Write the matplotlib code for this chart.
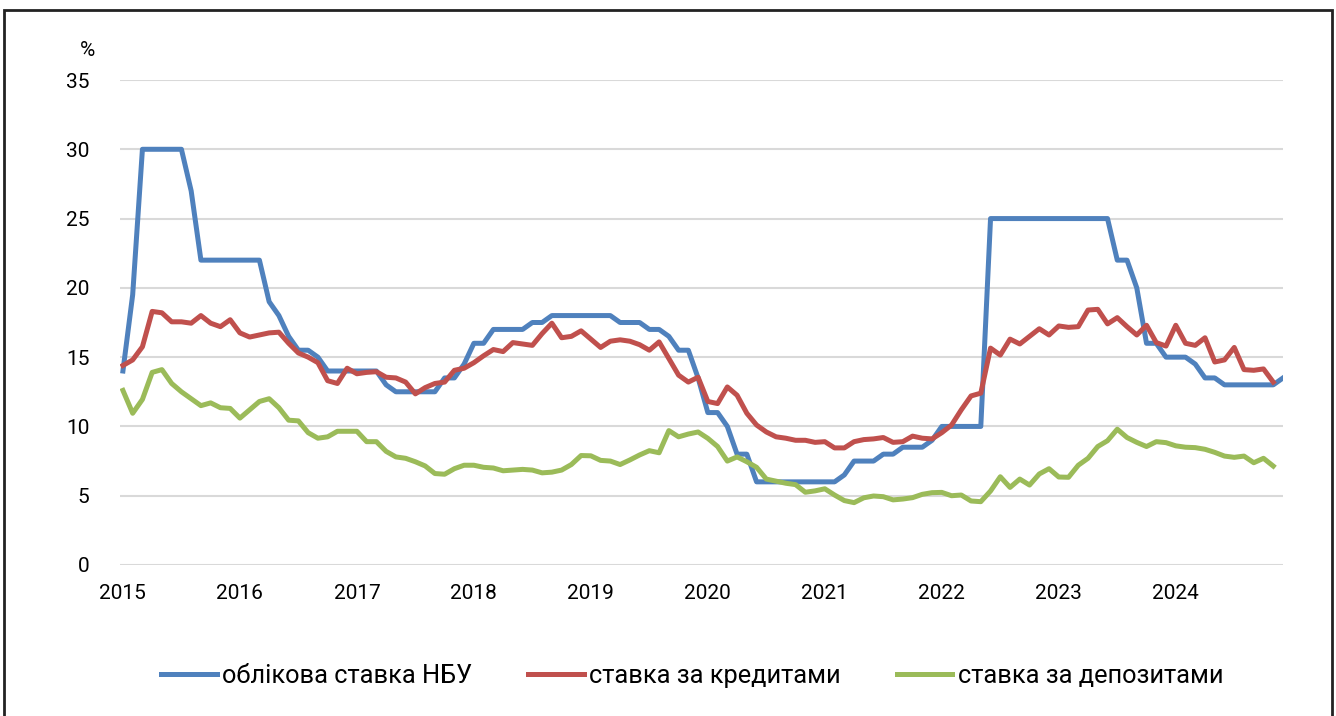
#Plots NBU discount rate against average loan and deposit rates, 2015-2024
import matplotlib.pyplot as plt
import matplotlib.patches as patches
import numpy as np

plt.rcParams['font.family'] = ['Roboto', 'DejaVu Sans']

#Monthly values, Jan 2015 onwards (%)
nbu_rate = [14, 19.5, 30, 30, 30, 30, 30, 27, 22, 22, 22, 22,
            22, 22, 22, 19, 18, 16.5, 15.5, 15.5, 15, 14, 14, 14,
            14, 14, 14, 13, 12.5, 12.5, 12.5, 12.5, 12.5, 13.5, 13.5, 14.5,
            16, 16, 17, 17, 17, 17, 17.5, 17.5, 18, 18, 18, 18,
            18, 18, 18, 17.5, 17.5, 17.5, 17, 17, 16.5, 15.5, 15.5, 13.5,
            11, 11, 10, 8, 8, 6, 6, 6, 6, 6, 6, 6,
            6, 6, 6.5, 7.5, 7.5, 7.5, 8, 8, 8.5, 8.5, 8.5, 9,
            10, 10, 10, 10, 10, 25, 25, 25, 25, 25, 25, 25,
            25, 25, 25, 25, 25, 25, 22, 22, 20, 16, 16, 15,
            15, 15, 14.5, 13.5, 13.5, 13, 13, 13, 13, 13, 13, 13.5]

loan_rate = [14.4, 14.8, 15.75, 18.3, 18.2, 17.55, 17.55, 17.45, 18.0, 17.45, 17.2, 17.7,
             16.75, 16.45, 16.6, 16.75, 16.8, 16.0, 15.3, 15.0, 14.6, 13.3, 13.1, 14.2,
             13.8, 13.9, 13.95, 13.55, 13.5, 13.2, 12.35, 12.8, 13.1, 13.2, 14.05, 14.2,
             14.6, 15.1, 15.55, 15.4, 16.05, 15.95, 15.85, 16.7, 17.45, 16.4, 16.5, 16.9,
             16.3, 15.7, 16.15, 16.25, 16.15, 15.9, 15.5, 16.1, 14.9, 13.7, 13.2, 13.55,
             11.8, 11.65, 12.85, 12.25, 10.95, 10.1, 9.6, 9.25, 9.15, 9.0, 9.0, 8.85,
             8.9, 8.45, 8.45, 8.9, 9.05, 9.1, 9.2, 8.85, 8.9, 9.3, 9.15, 9.1,
             9.55, 10.1, 11.2, 12.2, 12.4, 15.65, 15.15, 16.3, 15.95, 16.5, 17.05, 16.6,
             17.25, 17.15, 17.2, 18.4, 18.45, 17.4, 17.85, 17.2, 16.6, 17.3, 16.05, 15.8,
             17.3, 16.0, 15.85, 16.4, 14.65, 14.8, 15.7, 14.1, 14.05, 14.15, 13.2]

deposit_rate = [12.6, 10.95, 11.95, 13.9, 14.1, 13.1, 12.5, 12.0, 11.5, 11.7, 11.35, 11.3,
                10.6, 11.2, 11.8, 12.0, 11.35, 10.45, 10.4, 9.55, 9.15, 9.25, 9.65, 9.65,
                9.65, 8.9, 8.9, 8.2, 7.8, 7.7, 7.45, 7.15, 6.6, 6.55, 6.95, 7.2,
                7.2, 7.05, 7.0, 6.8, 6.85, 6.9, 6.85, 6.65, 6.7, 6.85, 7.25, 7.9,
                7.88, 7.55, 7.5, 7.25, 7.58, 7.94, 8.25, 8.1, 9.7, 9.25, 9.45, 9.6,
                9.14, 8.55, 7.5, 7.8, 7.45, 7.05, 6.2, 6.05, 5.9, 5.8, 5.25, 5.35,
                5.5, 5.05, 4.65, 4.5, 4.85, 4.98, 4.93, 4.7, 4.76, 4.86, 5.1, 5.22,
                5.24, 5.0, 5.05, 4.62, 4.57, 5.34, 6.37, 5.6, 6.2, 5.77, 6.57, 6.95,
                6.35, 6.33, 7.2, 7.7, 8.55, 8.97, 9.8, 9.2, 8.85, 8.55, 8.9, 8.83,
                8.6, 8.5, 8.47, 8.35, 8.13, 7.86, 7.77, 7.86, 7.38, 7.7, 7.14]

years = ['2015', '2016', '2017', '2018', '2019', '2020', '2021', '2022', '2023', '2024']
y_ticks = [0, 5, 10, 15, 20, 25, 30, 35]
labels = ['облікова ставка НБУ', 'ставка за кредитами', 'ставка за депозитами']

fig = plt.figure(figsize=(13.36, 7.16), dpi=100)
ax = fig.add_axes([120/1336, 151/716, 1163/1336, 485/716])

ax.plot(np.arange(len(nbu_rate)), nbu_rate, color='#4F81BD', lw=3.6, label=labels[0])
ax.plot(np.arange(len(loan_rate)), loan_rate, color='#C0504D', lw=3.6, label=labels[1])
ax.plot(np.arange(len(deposit_rate)), deposit_rate, color='#9BBB59', lw=3.6, label=labels[2])

ax.set_xlim(-0.3, 119)
ax.set_ylim(0, 35)
ax.set_yticks(y_ticks)
ax.set_xticks(np.arange(0, 12*len(years), 12))
ax.set_xticklabels(years)
ax.tick_params(length=0, labelsize=15, colors='black')
ax.tick_params(axis='y', pad=22)
ax.tick_params(axis='x', pad=14)
ax.grid(axis='y', color='#D9D9D9', lw=1.5)
ax.set_axisbelow(True)
for s in ax.spines.values():
    s.set_visible(False)

fig.text(95/1336, 1 - 50/716, '%', fontsize=15, ha='right', va='center')

fig.legend(loc='center', bbox_to_anchor=(692/1336, 1 - 676/716), ncol=3, frameon=False,
           fontsize=18.3, handlelength=2.2, handletextpad=0.2, columnspacing=2.2)

#Black frame round the whole chart
fig.patches.append(patches.Rectangle((4/1336, -0.05), 1328/1336, 1.05 - 10/716,
                                     transform=fig.transFigure, fill=False,
                                     edgecolor='#222222', lw=2))

fig.savefig('out.png', dpi=100)
